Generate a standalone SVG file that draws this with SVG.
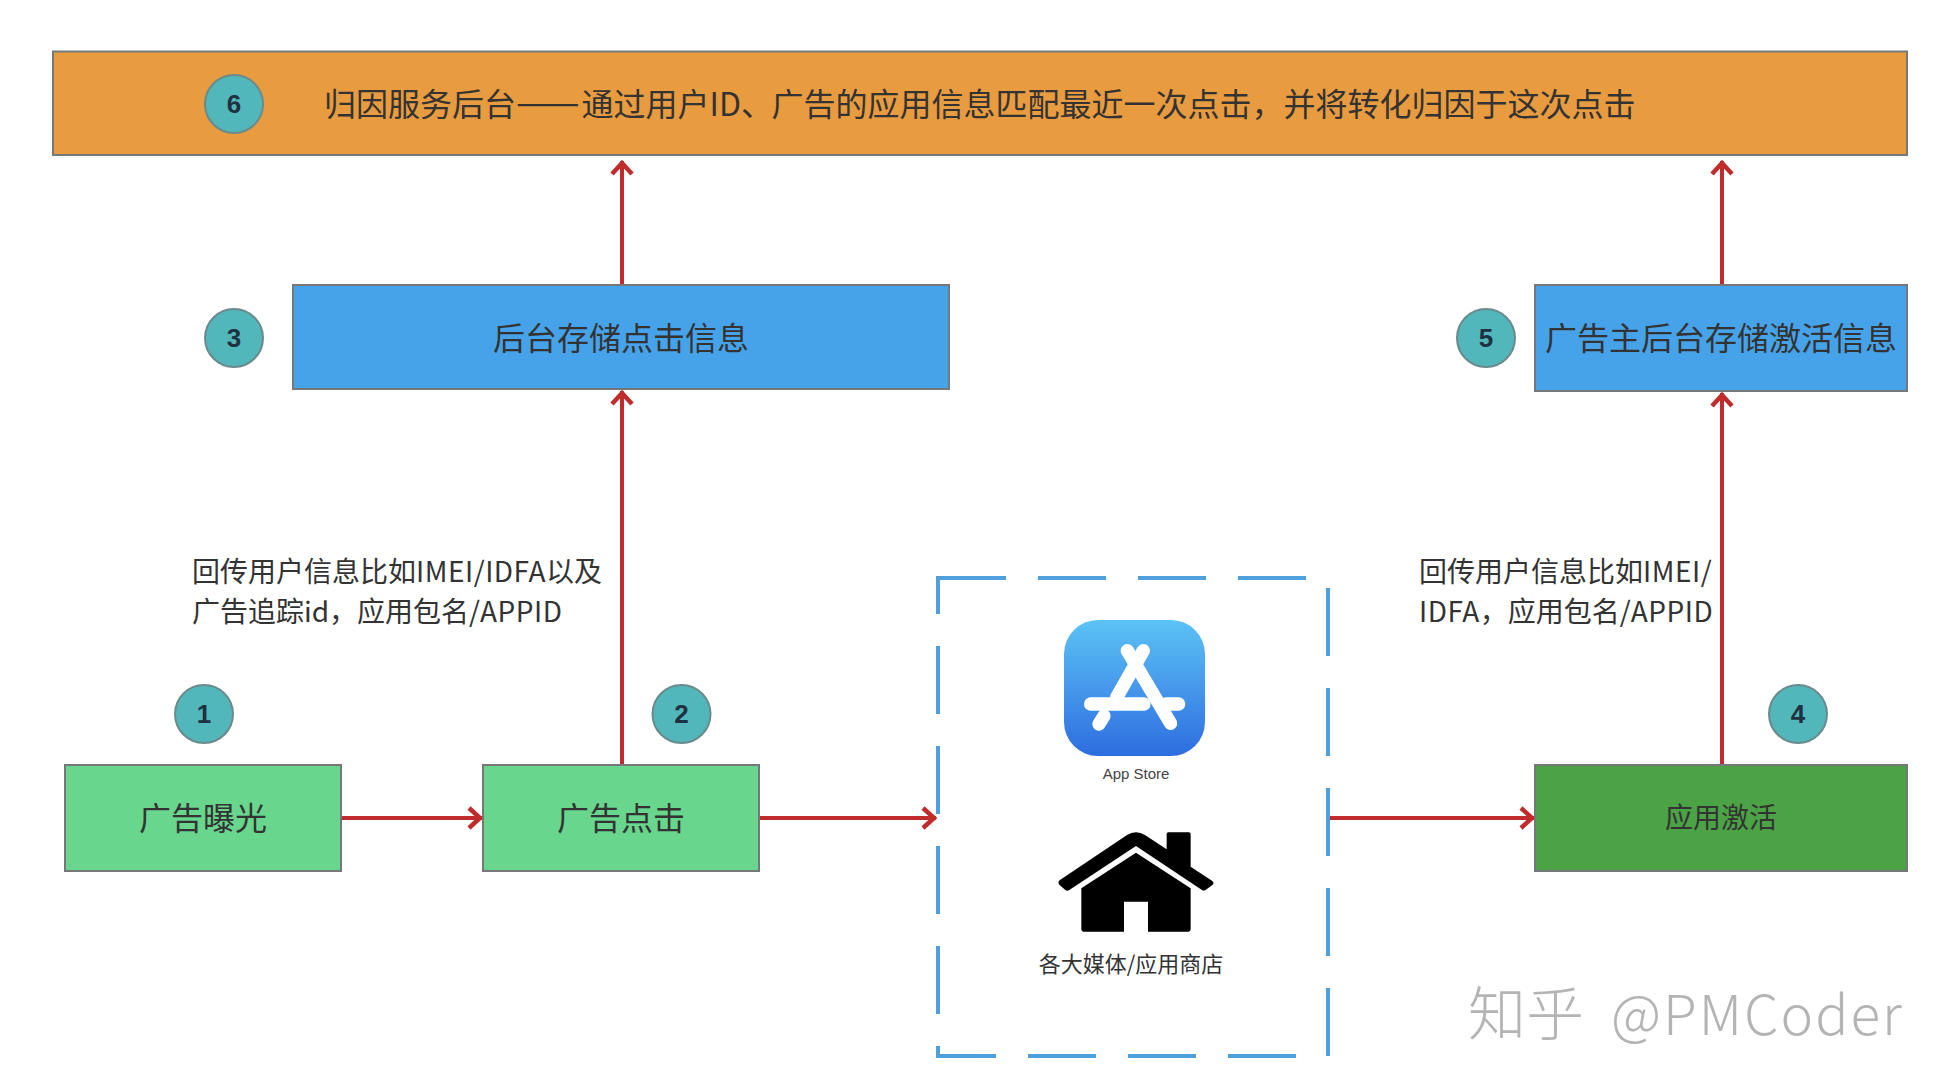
<svg xmlns="http://www.w3.org/2000/svg" width="1948" height="1092" viewBox="0 0 1948 1092">
<style>
text{font-family:"Noto Sans CJK SC","Liberation Sans",sans-serif;fill:#333}
.box{stroke:#75787a;stroke-width:2}
.orange{fill:#e89b3f}.blue{fill:#46a3ea}.lg{fill:#68d68d}.dg{fill:#4ba346}
.big{font-size:32px;text-anchor:middle}
.note{font-size:28px}
.lat{letter-spacing:.5px}
.badge circle{fill:#52b7bb;stroke:#6a8a8c;stroke-width:2}
.badge text{font-family:"Liberation Sans",sans-serif;font-weight:bold;font-size:26px;text-anchor:middle;fill:#1f3040}
.conn{stroke:#c02c2c;stroke-width:4;fill:none;marker-end:url(#arrow)}
</style>
<defs>
<marker id="arrow" markerUnits="userSpaceOnUse" markerWidth="24" markerHeight="28" refX="20" refY="14" orient="auto" viewBox="0 0 24 28">
<path d="M7 4 L18 14 L7 24" fill="none" stroke="#c02c2c" stroke-width="4.500"/>
</marker>
<linearGradient id="appgrad" x1="0" y1="0" x2="0" y2="1">
<stop offset="0" stop-color="#5cc3f6"/><stop offset="1" stop-color="#2e6de0"/>
</linearGradient>
</defs>
<rect width="1948" height="1092" fill="#fff"/>
<g id="connectors">
<path class="conn" d="M622 285V161"/>
<path class="conn" d="M622 765V391"/>
<path class="conn" d="M1722 285V161"/>
<path class="conn" d="M1722 765V393"/>
<path class="conn" d="M341 818H482"/>
<path class="conn" d="M759 818H936"/>
<path class="conn" d="M1330 818H1534"/>
</g>
<g id="node-6"><rect class="box orange" x="53" y="51.500" width="1854" height="103.500"/>
<text x="324" y="116" style="font-size:32px">归因服务后台<tspan style="font-size:38px">——</tspan><tspan x="581.500">通过用户ID、</tspan><tspan x="771.500">广告的应用信息匹配最近一次点击，并将转化归因于这次点击</tspan></text></g>
<g id="badge-6" class="badge"><circle cx="234" cy="104" r="29"/><text x="234" y="113">6</text></g>
<g id="node-3"><rect class="box blue" x="293" y="285" width="656" height="104"/>
<text class="big" x="621" y="350">后台存储点击信息</text></g>
<g id="badge-3" class="badge"><circle cx="234" cy="338" r="29"/><text x="234" y="347">3</text></g>
<g id="node-5"><rect class="box blue" x="1535" y="285" width="372" height="106"/>
<text class="big" x="1721" y="350">广告主后台存储激活信息</text></g>
<g id="badge-5" class="badge"><circle cx="1486" cy="338" r="29"/><text x="1486" y="347">5</text></g>
<g id="node-1"><rect class="box lg" x="65" y="765" width="276" height="106"/>
<text class="big" x="203" y="830">广告曝光</text></g>
<g id="badge-1" class="badge"><circle cx="204" cy="714" r="29"/><text x="204" y="723">1</text></g>
<g id="node-2"><rect class="box lg" x="483" y="765" width="276" height="106"/>
<text class="big" x="621" y="830">广告点击</text></g>
<g id="badge-2" class="badge"><circle cx="681.500" cy="714" r="29"/><text x="681.500" y="723">2</text></g>
<g id="node-4"><rect class="box dg" x="1535" y="765" width="372" height="106"/>
<text class="big" x="1721" y="828" style="font-size:28px">应用激活</text></g>
<g id="badge-4" class="badge"><circle cx="1798" cy="714" r="29"/><text x="1798" y="723">4</text></g>
<g id="note-left"><text class="note" x="192" y="582">回传用户信息比如<tspan class="lat">IMEI/IDFA</tspan>以及</text>
<text class="note" x="192" y="622">广告追踪id，应用包名/<tspan class="lat">APPID</tspan></text></g>
<g id="note-right"><text class="note" x="1419" y="582">回传用户信息比如<tspan class="lat">IMEI/</tspan></text>
<text class="note" x="1419" y="622"><tspan class="lat">IDFA</tspan>，应用包名/<tspan class="lat">APPID</tspan></text></g>
<g id="store-group">
<rect x="938" y="578" width="390" height="478" fill="none" stroke="#4e9fdc" stroke-width="4" stroke-dasharray="68 32"/>
<g id="app-store-icon">
<rect x="1064" y="620" width="141" height="136" rx="34" fill="url(#appgrad)"/>
<g transform="translate(920 560) scale(.3333)" fill="none" stroke="#fff" stroke-width="40" stroke-linecap="round">
<path d="M622 272L752 490"/>
<path d="M670 272L590 412"/>
<path d="M512 432H672M738 432H776"/>
<path d="M537 492L552 468"/>
</g>
<text x="1136" y="779" text-anchor="middle" style="font-family:'Liberation Sans',sans-serif;font-size:15px;fill:#444">App Store</text>
</g>
<g id="house-icon" transform="translate(920 560) scale(.3333)" fill="#000">
<path d="M620 826Q648 808 676 826L740 868V822Q740 817 745 817H807Q812 817 812 822V920L876 962Q884 968 878 974L860 988Q852 994 846 990L648 858L448 990Q442 994 436 990L418 974Q412 966 420 960Z"/>
<path d="M648 878L812 985V1108Q812 1115 805 1115H684V1025H612V1115H491Q484 1115 484 1108V985Z"/>
</g>
<text id="store-label" x="1131" y="972" text-anchor="middle" style="font-size:22px">各大媒体/应用商店</text>
</g>
<text id="watermark" y="1035" style="fill:#b4b4b4;font-weight:300"><tspan x="1468" style="font-size:58px">知乎</tspan><tspan x="1611" style="font-size:55px;letter-spacing:2px">@PMCoder</tspan></text>
</svg>
